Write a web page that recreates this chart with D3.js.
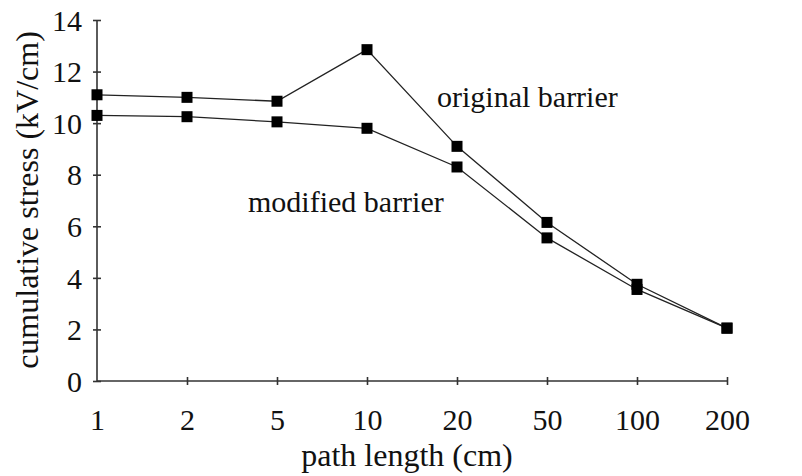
<!DOCTYPE html>
<html>
<head>
<script src="https://d3js.org/d3.v7.min.js"></script>
<style>
  body { margin: 0; background: #fff; }
  svg text { font-family: "Liberation Serif", "Times New Roman", serif; fill: #111; }
  .axis path, .axis line { stroke: #333; stroke-width: 1.6; }
  .series { fill: none; stroke: #222; stroke-width: 1.3; }
</style>
</head>
<body>
<div id="chart"></div>
<script>
// data
var pathLengths = ["1", "2", "5", "10", "20", "50", "100", "200"];
var original = [11.1, 11.0, 10.85, 12.85, 9.1, 6.15, 3.75, 2.05];
var modified = [10.3, 10.25, 10.05, 9.8, 8.3, 5.55, 3.55, 2.05];
var yTicks = [0, 2, 4, 6, 8, 10, 12, 14];

var width = 802, height = 476;
var svg = d3.select("#chart").append("svg")
    .attr("width", width)
    .attr("height", height);

var x = d3.scalePoint().domain(pathLengths).range([97, 727]);
var y = d3.scaleLinear().domain([0, 14]).range([381, 20]);

// y axis
var yAxis = svg.append("g").attr("class", "axis")
    .attr("transform", "translate(97,0)")
    .call(d3.axisLeft(y).tickValues(yTicks).tickSize(0).tickPadding(15).tickSizeOuter(0));
yAxis.selectAll(".tick text").attr("font-size", 30).attr("dy", "0.34em");
yAxis.selectAll(".tick").append("line").attr("x1", -4).attr("x2", 4);
yAxis.select(".domain").attr("d", "M0," + y(0) + "V" + y(14));

// x axis
var xAxis = svg.append("g").attr("class", "axis")
    .attr("transform", "translate(0," + y(0) + ")")
    .call(d3.axisBottom(x).tickSize(0).tickSizeOuter(0));
xAxis.selectAll(".tick text").attr("font-size", 30).attr("y", 49).attr("dy", 0);
xAxis.selectAll(".tick").filter(function(d) { return d !== "1"; })
    .append("line").attr("y1", -4).attr("y2", 4);
xAxis.select(".domain").attr("d", "M" + x("1") + ",0H" + x("200"));

// lines and markers
var line = d3.line()
    .x(function(d, i) { return x(pathLengths[i]); })
    .y(function(d) { return y(d); });

[original, modified].forEach(function(s) {
    svg.append("path").attr("class", "series").attr("d", line(s));
    svg.append("g").selectAll("rect").data(s).enter().append("rect")
        .attr("x", function(d, i) { return x(pathLengths[i]) - 5.5; })
        .attr("y", function(d) { return y(d) - 5.5; })
        .attr("width", 11)
        .attr("height", 11)
        .attr("fill", "#000");
});

// labels
svg.append("text").attr("x", 437).attr("y", 107).attr("font-size", 30).text("original barrier");
svg.append("text").attr("x", 248).attr("y", 212).attr("font-size", 30).text("modified barrier");

svg.append("text").attr("x", 407).attr("y", 466).attr("font-size", 32)
    .attr("text-anchor", "middle").text("path length (cm)");
svg.append("text")
    .attr("transform", "translate(38,200) rotate(-90)")
    .attr("font-size", 32)
    .attr("text-anchor", "middle")
    .text("cumulative stress (kV/cm)");
</script>
</body>
</html>
